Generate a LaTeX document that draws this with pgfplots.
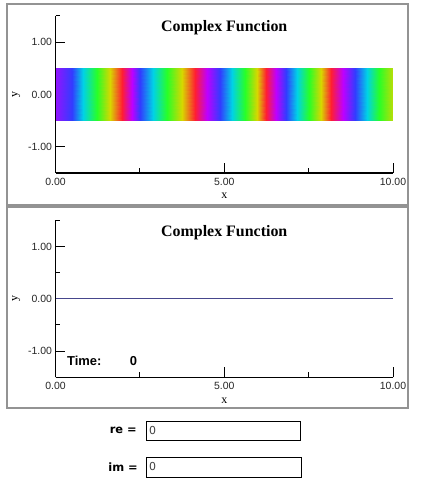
\documentclass[border=0pt]{standalone}
\usepackage{pgfplots}
\usepackage{pgfplotstable}
\pgfplotsset{compat=1.18}
\usepackage{fontspec}
\setmainfont{Liberation Sans}
\newfontfamily\seriffont{Liberation Serif}
\newfontfamily\dejavu{DejaVu Sans}

\pgfplotstableread{
x y h
0 -0.5 280
0.49 -0.5 240
0.81 -0.5 180
1.23 -0.5 120
1.61 -0.5 60
1.97 -0.5 0
2.27 -0.5 -60
2.50 -0.5 -120
2.89 -0.5 -180
3.30 -0.5 -240
3.75 -0.5 -300
4.13 -0.5 -360
4.49 -0.5 -420
4.87 -0.5 -480
5.23 -0.5 -540
5.61 -0.5 -600
5.97 -0.5 -660
6.24 -0.5 -720
6.53 -0.5 -780
6.83 -0.5 -840
7.16 -0.5 -900
7.51 -0.5 -960
7.87 -0.5 -1020
8.16 -0.5 -1080
8.52 -0.5 -1140
8.87 -0.5 -1200
9.23 -0.5 -1260
9.59 -0.5 -1320
10 -0.5 -1370
0 0.5 280
0.49 0.5 240
0.81 0.5 180
1.23 0.5 120
1.61 0.5 60
1.97 0.5 0
2.27 0.5 -60
2.50 0.5 -120
2.89 0.5 -180
3.30 0.5 -240
3.75 0.5 -300
4.13 0.5 -360
4.49 0.5 -420
4.87 0.5 -480
5.23 0.5 -540
5.61 0.5 -600
5.97 0.5 -660
6.24 0.5 -720
6.53 0.5 -780
6.83 0.5 -840
7.16 0.5 -900
7.51 0.5 -960
7.87 0.5 -1020
8.16 0.5 -1080
8.52 0.5 -1140
8.87 0.5 -1200
9.23 0.5 -1260
9.59 0.5 -1320
10 0.5 -1370
}\phasedata

\pgfplotsset{
  colormap={phase}{
    rgb255(0cm)=(215,215,0) rgb255(1cm)=(40,255,40) rgb255(2cm)=(0,210,230) rgb255(3cm)=(50,60,255) rgb255(4cm)=(190,0,255) rgb255(5cm)=(255,30,50)
    rgb255(6cm)=(215,215,0) rgb255(7cm)=(40,255,40) rgb255(8cm)=(0,210,230) rgb255(9cm)=(50,60,255) rgb255(10cm)=(190,0,255) rgb255(11cm)=(255,30,50)
    rgb255(12cm)=(215,215,0) rgb255(13cm)=(40,255,40) rgb255(14cm)=(0,210,230) rgb255(15cm)=(50,60,255) rgb255(16cm)=(190,0,255) rgb255(17cm)=(255,30,50)
    rgb255(18cm)=(215,215,0) rgb255(19cm)=(40,255,40) rgb255(20cm)=(0,210,230) rgb255(21cm)=(50,60,255) rgb255(22cm)=(190,0,255) rgb255(23cm)=(255,30,50)
    rgb255(24cm)=(215,215,0) rgb255(25cm)=(40,255,40) rgb255(26cm)=(0,210,230) rgb255(27cm)=(50,60,255) rgb255(28cm)=(190,0,255)
  },
  cf/.style={
    scale only axis, width=337.5bp, height=157bp,
    xmin=0, xmax=10, ymin=-1.5, ymax=1.5,
    axis x line*=bottom, axis y line*=left,
    axis line style={line width=1.2bp, black},
    xtick={0,5,10}, ytick={-1,0,1},
    minor xtick={2.5,7.5}, minor ytick={-0.5,0.5,1.5},
    tick align=inside,
    major tick length=10bp, minor tick length=5bp,
    every tick/.style={black, line width=1bp},
    tick label style={font=\fontsize{10.5}{12}\selectfont, text=black!85},
    xticklabel style={yshift=-1.5bp},
    /pgf/number format/fixed,
    /pgf/number format/fixed zerofill,
    /pgf/number format/precision=2,
    /pgf/number format/assume math mode=true,
    xlabel={x}, ylabel={y},
    label style={font=\seriffont\fontsize{12}{13}\selectfont},
    xlabel style={yshift=-1bp},
    ylabel style={yshift=1bp},
    clip=false,
  }
}

\begin{document}
\begin{tikzpicture}
\useasboundingbox (0,0) rectangle (448bp,488bp);
\fill[white] (0,0) rectangle (448bp,488bp);
\draw[gray!85, line width=1.2bp] (7bp,283bp) rectangle (408bp,484bp);
\draw[gray!85, line width=1.2bp] (7bp,80bp) rectangle (408bp,281bp);

\begin{axis}[cf, at={(55.5bp,315bp)}, anchor=south west,
  colormap name=phase, point meta min=-1380, point meta max=300]
\addplot[surf, shader=interp, mesh/cols=29, point meta=explicit] table[x=x, y=y, meta=h] {\phasedata};
\node[anchor=base, font=\seriffont\bfseries\fontsize{16}{18}\selectfont] at (rel axis cs:0.5,0.9) {Complex Function};
\end{axis}

\begin{axis}[cf, at={(55.5bp,110.7bp)}, anchor=south west]
\addplot[color={rgb,255:red,70;green,70;blue,140}, line width=1bp] coordinates {(0,0) (10,0)};
\node[anchor=base, font=\seriffont\bfseries\fontsize{16}{18}\selectfont] at (rel axis cs:0.5,0.9) {Complex Function};
\node[anchor=base west, inner sep=0pt, font=\bfseries\fontsize{13}{15}\selectfont] at (axis cs:0.34,-1.28) {Time:};
\node[anchor=base west, inner sep=0pt, font=\bfseries\fontsize{13}{15}\selectfont] at (axis cs:2.2,-1.28) {0};
\end{axis}

\draw[black, line width=0.8bp] (146bp,48bp) rectangle (300bp,67bp);
\node[anchor=east, inner sep=0pt, font=\dejavu\bfseries\fontsize{11.5}{13}\selectfont] at (137bp,57.5bp) {re =};
\node[anchor=west, inner sep=0pt, text=black!75, font=\dejavu\fontsize{11}{13}\selectfont] at (149bp,57.5bp) {0};
\draw[black, line width=0.8bp] (146bp,11bp) rectangle (301bp,31bp);
\node[anchor=east, inner sep=0pt, font=\dejavu\bfseries\fontsize{11.5}{13}\selectfont] at (138bp,21bp) {im =};
\node[anchor=west, inner sep=0pt, text=black!75, font=\dejavu\fontsize{11}{13}\selectfont] at (149bp,21bp) {0};
\end{tikzpicture}
\end{document}
